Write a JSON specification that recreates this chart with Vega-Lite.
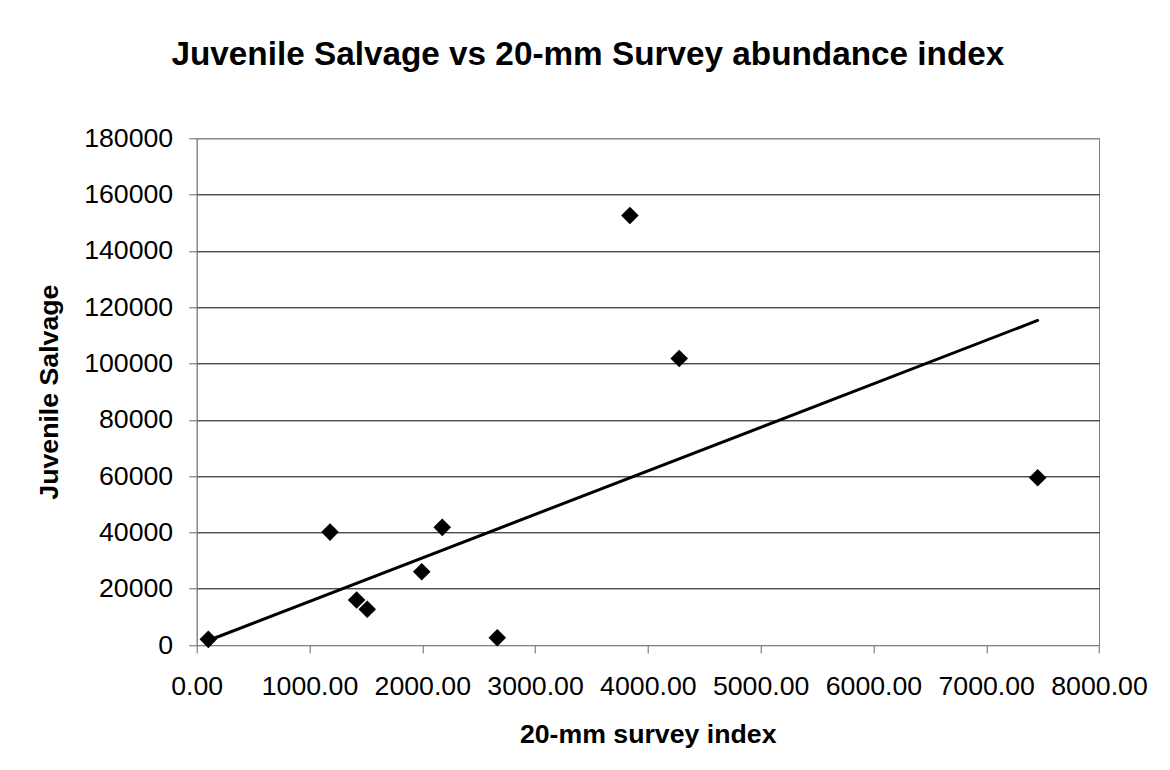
{
  "$schema": "https://vega.github.io/schema/vega-lite/v6.json",
  "width": 902.3,
  "height": 506.7,
  "autosize": {"type": "none"},
  "padding": {"left": 196.7, "top": 138.3, "right": 71, "bottom": 125},
  "background": "white",
  "title": {
    "text": "Juvenile Salvage vs 20-mm Survey abundance index",
    "font": "Liberation Sans",
    "fontSize": 33.3,
    "fontWeight": "bold",
    "color": "black",
    "anchor": "middle",
    "baseline": "alphabetic",
    "dx": -60,
    "offset": 27
  },
  "datasets": {
    "points": [
      {"index": 103, "salvage": 2000},
      {"index": 1182, "salvage": 40100},
      {"index": 1418, "salvage": 16000},
      {"index": 1512, "salvage": 12700},
      {"index": 1995, "salvage": 26000},
      {"index": 2177, "salvage": 41800},
      {"index": 2665, "salvage": 2600},
      {"index": 3841, "salvage": 152600},
      {"index": 4278, "salvage": 101800},
      {"index": 7456, "salvage": 59400}
    ],
    "trend": [
      {"index": 103, "salvage": 1590},
      {"index": 7456, "salvage": 115300}
    ]
  },
  "encoding": {
    "x": {
      "field": "index",
      "type": "quantitative",
      "scale": {"domain": [0, 8000], "nice": false, "zero": true},
      "axis": {
        "title": "20-mm survey index",
        "values": [0, 1000, 2000, 3000, 4000, 5000, 6000, 7000, 8000],
        "format": ".2f",
        "grid": false,
        "labelFlush": false,
        "labelOverlap": false,
        "labelBound": false,
        "labelPadding": 20,
        "tickSize": 8,
        "titleX": 451,
        "titleY": 97,
        "titleAlign": "center",
        "titleBaseline": "alphabetic"
      }
    },
    "y": {
      "field": "salvage",
      "type": "quantitative",
      "scale": {"domain": [0, 180000], "nice": false, "zero": true},
      "axis": {
        "title": "Juvenile Salvage",
        "values": [0, 20000, 40000, 60000, 80000, 100000, 120000, 140000, 160000, 180000],
        "format": "d",
        "grid": true,
        "gridColor": {"condition": {"test": "datum.value === 0 || datum.value === 180000", "value": "#808080"}, "value": "#000000"},
        "gridWidth": 1,
        "labelOverlap": false,
        "labelBound": false,
        "labelFlush": false,
        "labelPadding": 16,
        "tickSize": 8,
        "titleAngle": -90,
        "titleX": -139,
        "titleY": 253.35,
        "titleAlign": "center",
        "titleBaseline": "alphabetic"
      }
    }
  },
  "layer": [
    {
      "data": {"name": "trend"},
      "mark": {"type": "line", "color": "#000000", "strokeWidth": 3, "strokeCap": "round"}
    },
    {
      "data": {"name": "points"},
      "mark": {"type": "point", "shape": "diamond", "filled": true, "color": "#000000", "size": 310, "opacity": 1, "strokeWidth": 0}
    }
  ],
  "config": {
    "view": {"stroke": "#808080", "strokeWidth": 1},
    "axis": {
      "domainColor": "#808080",
      "domainWidth": 1,
      "tickColor": "#666666",
      "tickWidth": 1,
      "labelFont": "Liberation Sans",
      "labelFontSize": 26.7,
      "labelColor": "#000000",
      "titleFont": "Liberation Sans",
      "titleFontSize": 26.7,
      "titleFontWeight": "bold",
      "titleColor": "#000000"
    }
  }
}
